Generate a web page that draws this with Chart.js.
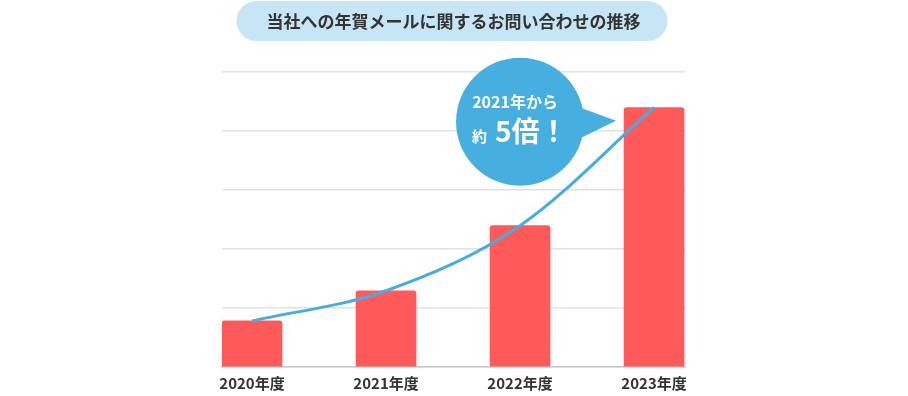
<!DOCTYPE html>
<html lang="ja">
<head>
<meta charset="utf-8">
<script src="https://cdn.jsdelivr.net/npm/chart.js@4/dist/chart.umd.min.js"></script>
<style>
  html, body { margin: 0; padding: 0; background: #ffffff; }
  #wrap { width: 908px; height: 396px; position: relative; }
</style>
</head>
<body>
<div id="wrap"><canvas id="c" width="908" height="396"></canvas></div>
<script>
const titleText = '当社への年賀メールに関するお問い合わせの推移';
const categories = ['2020年度', '2021年度', '2022年度', '2023年度'];
const barValues = [78, 129, 239, 439];
const trendValues = [78, 129, 239, 439];
const yTicks = [0, 100, 200, 300, 400, 500];
const calloutLine1 = '2021年から';
const calloutPrefix = '約';
const calloutMain = '5倍！';

const FONT = '"Noto Sans CJK JP", "Noto Sans", sans-serif';

const pillPlugin = {
  id: 'pill',
  beforeDraw(chart) {
    const ctx = chart.ctx;
    ctx.save();
    ctx.font = 'bold 17px ' + FONT;
    const w = ctx.measureText(titleText).width + 57;
    const h = 40;
    const cx = (chart.width / 2) - 2;
    const top = 1;
    const x = cx - w / 2;
    const r = h / 2;
    ctx.fillStyle = '#c6e6f5';
    ctx.beginPath();
    ctx.moveTo(x + r, top);
    ctx.lineTo(x + w - r, top);
    ctx.arc(x + w - r, top + r, r, -Math.PI / 2, Math.PI / 2);
    ctx.lineTo(x + r, top + h);
    ctx.arc(x + r, top + r, r, Math.PI / 2, Math.PI * 1.5);
    ctx.closePath();
    ctx.fill();
    ctx.restore();
  }
};

const calloutPlugin = {
  id: 'callout',
  afterDatasetsDraw(chart) {
    const ctx = chart.ctx;
    const xs = chart.scales.x, ys = chart.scales.y;
    const cx = xs.getPixelForValue(2);
    const cy = ys.getPixelForValue(415);
    const r = 64;
    ctx.save();
    ctx.fillStyle = '#46afdf';
    ctx.beginPath();
    ctx.arc(cx, cy, r, 0, Math.PI * 2);
    ctx.fill();
    ctx.beginPath();
    ctx.moveTo(cx + 55, cy - 16);
    ctx.lineTo(cx + 96, cy - 1);
    ctx.lineTo(cx + 57, cy + 18);
    ctx.closePath();
    ctx.fill();
    ctx.fillStyle = '#ffffff';
    ctx.textBaseline = 'middle';
    ctx.textAlign = 'center';
    ctx.font = 'bold 16px ' + FONT;
    ctx.fillText(calloutLine1, cx - 5, cy - 20);
    ctx.textBaseline = 'alphabetic';
    ctx.textAlign = 'left';
    ctx.font = 'bold 15px ' + FONT;
    ctx.fillText(calloutPrefix, cx - 48, cy + 20);
    ctx.font = 'bold 28px ' + FONT;
    ctx.fillText(calloutMain, cx - 25, cy + 20);
    ctx.restore();
  }
};

new Chart(document.getElementById('c'), {
  type: 'bar',
  data: {
    datasets: [
      {
        type: 'line',
        data: trendValues.map((v, i) => ({ x: i, y: v })),
        borderColor: '#45aee0',
        borderWidth: 3,
        pointRadius: 0,
        cubicInterpolationMode: 'monotone',
        fill: false,
        order: 0
      },
      {
        type: 'bar',
        data: barValues.map((v, i) => ({ x: i, y: v })),
        backgroundColor: '#ff5a5a',
        barThickness: 60,
        borderRadius: { topLeft: 3, topRight: 3, bottomLeft: 0, bottomRight: 0 },
        borderSkipped: 'bottom',
        order: 1
      }
    ]
  },
  options: {
    responsive: false,
    animation: false,
    layout: { padding: { left: 222, right: 223, top: 0, bottom: -3 } },
    plugins: {
      legend: { display: false },
      tooltip: { enabled: false },
      title: {
        display: true,
        text: titleText,
        color: '#333333',
        font: { family: FONT, size: 17, weight: 'bold' },
        padding: { top: 11, bottom: 40 }
      }
    },
    scales: {
      x: {
        type: 'linear',
        offset: false,
        min: -0.224,
        max: 3.231,
        grid: { display: false, drawTicks: false, tickLength: 0 },
        border: { display: true, color: '#c8c8c8', width: 1.5 },
        afterBuildTicks(scale) { scale.ticks = categories.map((_, i) => ({ value: i })); },
        ticks: {
          autoSkip: false,
          maxRotation: 0,
          padding: 7,
          color: '#333333',
          font: { family: FONT, size: 15, weight: 'bold' },
          callback: (v) => categories[v]
        }
      },
      y: {
        min: 0,
        max: 500,
        afterBuildTicks(scale) { scale.ticks = yTicks.map(v => ({ value: v })); },
        ticks: { display: false },
        grid: { color: '#e2e2e2', lineWidth: 1.5, drawTicks: false },
        border: { display: false }
      }
    }
  },
  plugins: [pillPlugin, calloutPlugin]
});
</script>
</body>
</html>
